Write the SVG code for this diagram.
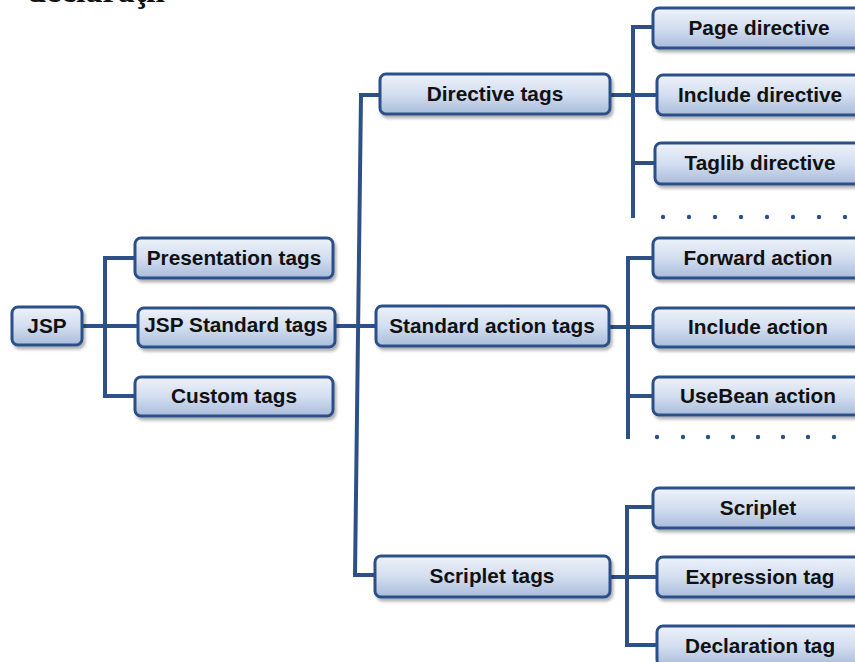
<svg xmlns="http://www.w3.org/2000/svg" width="855" height="662" viewBox="0 0 855 662">
<defs>
<linearGradient id="g" x1="0" y1="0" x2="0" y2="1">
<stop offset="0" stop-color="#eef2f9"/>
<stop offset="0.5" stop-color="#d3def0"/>
<stop offset="1" stop-color="#a9bcda"/>
</linearGradient>
<filter id="sh" x="-10%" y="-20%" width="130%" height="160%">
<feDropShadow dx="2" dy="3" stdDeviation="1.5" flood-color="#000" flood-opacity="0.3"/>
</filter>
</defs>
<style>
.box{fill:url(#g);stroke:#2c5089;stroke-width:3;filter:url(#sh)}
.t{font-family:"Liberation Sans",Arial,sans-serif;font-weight:bold;font-size:20.8px;fill:#111;text-anchor:middle}
.c{fill:none;stroke:#2d5187;stroke-width:4;stroke-linecap:square}
.d{fill:#2d5187}
</style>
<rect width="855" height="662" fill="#fff"/>
<text x="27" y="2" font-family="Liberation Serif,serif" font-weight="bold" font-size="34" fill="#111">declaraţii</text>
<g id="connectors">
<path class="c" d="M82 326H138M105 258V396M105 258H135M105 396H135"/>
<path class="c" d="M335 326H376M361 95L355 575M361 95H380M355 575H375"/>
<path class="c" d="M610 95H657M633 27V216M633 27H653M633 163H655"/>
<path class="c" d="M609 327H653M628 258V437M628 258H653M628 396H653"/>
<path class="c" d="M610 577H657M627 507V645M627 507H653M627 645H657"/>
<g class="d">
<circle cx="663" cy="217" r="2.2"/><circle cx="689" cy="217" r="2.2"/><circle cx="715" cy="217" r="2.2"/><circle cx="741" cy="217" r="2.2"/><circle cx="767" cy="217" r="2.2"/><circle cx="793" cy="217" r="2.2"/><circle cx="819" cy="217" r="2.2"/><circle cx="845" cy="217" r="2.2"/>
<circle cx="657" cy="437" r="2.2"/><circle cx="683" cy="437" r="2.2"/><circle cx="708" cy="437" r="2.2"/><circle cx="733" cy="437" r="2.2"/><circle cx="758" cy="437" r="2.2"/><circle cx="783" cy="437" r="2.2"/><circle cx="808" cy="437" r="2.2"/><circle cx="834" cy="437" r="2.2"/>
</g>
</g>
<g id="jsp"><rect class="box" x="12" y="307" width="70" height="38" rx="6"/><text class="t" x="47" y="333">JSP</text></g>
<g id="presentation"><rect class="box" x="135" y="238" width="198" height="40" rx="6"/><text class="t" x="234" y="265">Presentation tags</text></g>
<g id="jspstandard"><rect class="box" x="138" y="308" width="197" height="39" rx="6"/><text class="t" x="236" y="332">JSP Standard tags</text></g>
<g id="custom"><rect class="box" x="135" y="377" width="198" height="39" rx="6"/><text class="t" x="234" y="403">Custom tags</text></g>
<g id="directive"><rect class="box" x="380" y="74" width="230" height="40" rx="6"/><text class="t" x="495" y="101">Directive tags</text></g>
<g id="stdaction"><rect class="box" x="376" y="306" width="233" height="40" rx="6"/><text class="t" x="492" y="333">Standard action tags</text></g>
<g id="scriplettags"><rect class="box" x="375" y="556" width="235" height="41" rx="6"/><text class="t" x="492" y="583">Scriplet tags</text></g>
<g id="page"><rect class="box" x="653" y="8" width="212" height="40" rx="6"/><text class="t" x="759" y="35">Page directive</text></g>
<g id="includedir"><rect class="box" x="657" y="75" width="212" height="40" rx="6"/><text class="t" x="760" y="102">Include directive</text></g>
<g id="taglib"><rect class="box" x="655" y="143" width="212" height="41" rx="6"/><text class="t" x="760" y="170">Taglib directive</text></g>
<g id="forward"><rect class="box" x="653" y="238" width="212" height="40" rx="6"/><text class="t" x="758" y="265">Forward action</text></g>
<g id="includeact"><rect class="box" x="653" y="308" width="212" height="39" rx="6"/><text class="t" x="758" y="334">Include action</text></g>
<g id="usebean"><rect class="box" x="653" y="377" width="212" height="38" rx="6"/><text class="t" x="758" y="403">UseBean action</text></g>
<g id="scriplet"><rect class="box" x="653" y="488" width="212" height="40" rx="6"/><text class="t" x="758" y="515">Scriplet</text></g>
<g id="expression"><rect class="box" x="657" y="557" width="212" height="40" rx="6"/><text class="t" x="760" y="584">Expression tag</text></g>
<g id="declaration"><rect class="box" x="657" y="626" width="212" height="40" rx="6"/><text class="t" x="760" y="653">Declaration tag</text></g>
</svg>
